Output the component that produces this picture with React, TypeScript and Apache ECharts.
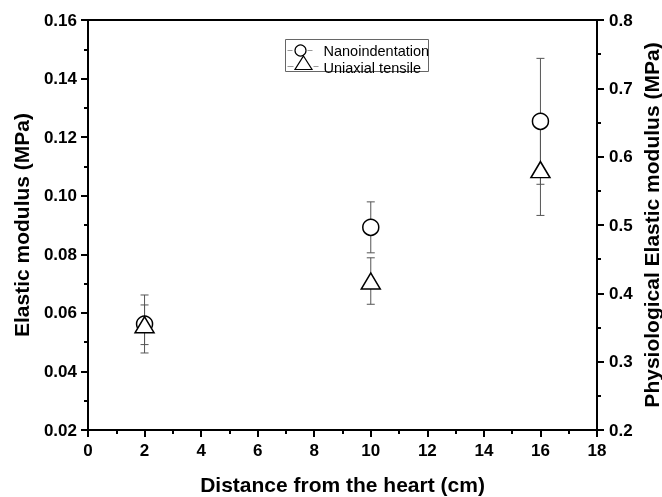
import React, { useEffect, useRef } from "react";
import * as echarts from "echarts";

const distances = [2, 10, 16];
const nanoMean = [0.0562, 0.0892, 0.1254];
const nanoErr = [0.0099, 0.0087, 0.0215];
const tensileMean = [0.354, 0.418, 0.581];
const tensileErr = [0.029, 0.034, 0.067];
const seriesNames = ["Nanoindentation", "Uniaxial tensile"];

const FONT = "'Liberation Sans', Arial, Helvetica, sans-serif";
const W = 662;
const H = 497;

function errorBarItem(params: any, api: any) {
  const x = api.value(0);
  const m = api.value(1);
  const e = api.value(2);
  const top = api.coord([x, m + e]);
  const bot = api.coord([x, m - e]);
  const hw = 4;
  const style = { stroke: "#555", lineWidth: 1 };
  return {
    type: "group",
    children: [
      { type: "line", shape: { x1: top[0], y1: top[1], x2: bot[0], y2: bot[1] }, style },
      { type: "line", shape: { x1: top[0] - hw, y1: top[1], x2: top[0] + hw, y2: top[1] }, style },
      { type: "line", shape: { x1: bot[0] - hw, y1: bot[1], x2: bot[0] + hw, y2: bot[1] }, style },
    ],
  };
}

export default function App() {
  const ref = useRef<HTMLDivElement>(null);
  useEffect(() => {
    document.body.style.margin = "0";
    document.body.style.overflow = "hidden";
    document.documentElement.style.overflow = "hidden";
    const chart = echarts.init(ref.current!, null, { renderer: "svg", width: W, height: H });
    const nanoPts = distances.map((d, i) => [d, nanoMean[i]]);
    const tensPts = distances.map((d, i) => [d, tensileMean[i]]);
    const nanoErrPts = distances.map((d, i) => [d, nanoMean[i], nanoErr[i]]);
    const tensErrPts = distances.map((d, i) => [d, tensileMean[i], tensileErr[i]]);

    const tickLabel = { fontFamily: FONT, fontWeight: "bold", fontSize: 17, color: "#000" };
    const nameStyle = { fontFamily: FONT, fontWeight: "bold", fontSize: 21, color: "#000" };
    const axisLine = { show: true, onZero: false, lineStyle: { color: "#000", width: 2 } };
    const majorTick = { show: true, inside: false, length: 7, lineStyle: { color: "#000", width: 2 } };
    const minorTick = { show: true, splitNumber: 2, length: 4, lineStyle: { color: "#000", width: 2 } };

    chart.setOption({
      animation: false,
      grid: { left: 88, right: 65, top: 20, bottom: 67, containLabel: false, outerBoundsMode: "none" },
      xAxis: [
        {
          type: "value",
          min: 0,
          max: 18,
          interval: 2,
          position: "bottom",
          name: "Distance from the heart (cm)",
          nameLocation: "middle",
          nameMoveOverlap: false,
          nameGap: 44,
          nameTextStyle: nameStyle,
          axisLine,
          axisTick: majorTick,
          minorTick,
          axisLabel: { ...tickLabel, margin: 12 },
          splitLine: { show: false },
        },
        {
          type: "value",
          min: 0,
          max: 18,
          position: "top",
          axisLine,
          axisTick: { show: false },
          minorTick: { show: false },
          axisLabel: { show: false },
          splitLine: { show: false },
        },
      ],
      yAxis: [
        {
          type: "value",
          min: 0.02,
          max: 0.16,
          interval: 0.02,
          position: "left",
          name: "Elastic modulus (MPa)",
          nameLocation: "middle",
          nameMoveOverlap: false,
          nameRotate: 90,
          nameGap: 56,
          nameTextStyle: nameStyle,
          axisLine,
          axisTick: majorTick,
          minorTick,
          axisLabel: { ...tickLabel, margin: 11, formatter: (v: number) => v.toFixed(2) },
          splitLine: { show: false },
        },
        {
          type: "value",
          min: 0.2,
          max: 0.8,
          interval: 0.1,
          position: "right",
          name: "Physiological Elastic modulus (MPa)",
          nameLocation: "middle",
          nameMoveOverlap: false,
          nameRotate: 90,
          nameGap: 54,
          nameTextStyle: { ...nameStyle, verticalAlign: "middle", align: "center" },
          axisLine,
          axisTick: majorTick,
          minorTick,
          axisLabel: { ...tickLabel, margin: 12, formatter: (v: number) => v.toFixed(1) },
          splitLine: { show: false },
        },
      ],
      series: [
        {
          type: "custom",
          name: seriesNames[0] + " error",
          xAxisIndex: 0,
          yAxisIndex: 0,
          renderItem: errorBarItem,
          data: nanoErrPts,
          encode: { x: 0, y: [1] },
          z: 1,
          silent: true,
        },
        {
          type: "custom",
          name: seriesNames[1] + " error",
          xAxisIndex: 0,
          yAxisIndex: 1,
          renderItem: errorBarItem,
          data: tensErrPts,
          encode: { x: 0, y: [1] },
          z: 1,
          silent: true,
        },
        {
          type: "scatter",
          name: seriesNames[0],
          xAxisIndex: 0,
          yAxisIndex: 0,
          symbol: "circle",
          symbolSize: 16,
          itemStyle: { color: "#fff", borderColor: "#000", borderWidth: 1.5, opacity: 1 },
          data: nanoPts,
          z: 3,
        },
        {
          type: "scatter",
          name: seriesNames[1],
          xAxisIndex: 0,
          yAxisIndex: 1,
          symbol: "triangle",
          symbolSize: [19, 16],
          itemStyle: { color: "#fff", borderColor: "#000", borderWidth: 1.5, opacity: 1 },
          data: tensPts,
          z: 4,
        },
      ],
      graphic: [
        {
          type: "group",
          left: 285,
          top: 39,
          children: [
            { type: "rect", shape: { x: 0, y: 0, width: 143, height: 32 }, style: { fill: "#fff", stroke: "#666", lineWidth: 1 } },
            { type: "line", shape: { x1: 2, y1: 11, x2: 7, y2: 11 }, style: { stroke: "#999", lineWidth: 1 } },
            { type: "line", shape: { x1: 22, y1: 11, x2: 27, y2: 11 }, style: { stroke: "#999", lineWidth: 1 } },
            { type: "circle", shape: { cx: 15, cy: 11, r: 5.5 }, style: { fill: "#fff", stroke: "#000", lineWidth: 1.2 } },
            { type: "text", x: 38, y: 11.5, style: { text: seriesNames[0], font: `14.5px ${FONT}`, fill: "#000", verticalAlign: "middle" } },
            { type: "line", shape: { x1: 2, y1: 27, x2: 8, y2: 27 }, style: { stroke: "#999", lineWidth: 1 } },
            { type: "line", shape: { x1: 28, y1: 27, x2: 33, y2: 27 }, style: { stroke: "#999", lineWidth: 1 } },
            { type: "polygon", shape: { points: [[18, 16.5], [26.5, 30], [9.5, 30]] }, style: { fill: "#fff", stroke: "#000", lineWidth: 1.2 } },
            { type: "text", x: 38, y: 28, style: { text: seriesNames[1], font: `14.5px ${FONT}`, fill: "#000", verticalAlign: "middle" } },
          ],
        },
      ],
    });
    return () => chart.dispose();
  }, []);
  return <div ref={ref} style={{ position: "fixed", left: 0, top: 0, width: W, height: H }} />;
}
